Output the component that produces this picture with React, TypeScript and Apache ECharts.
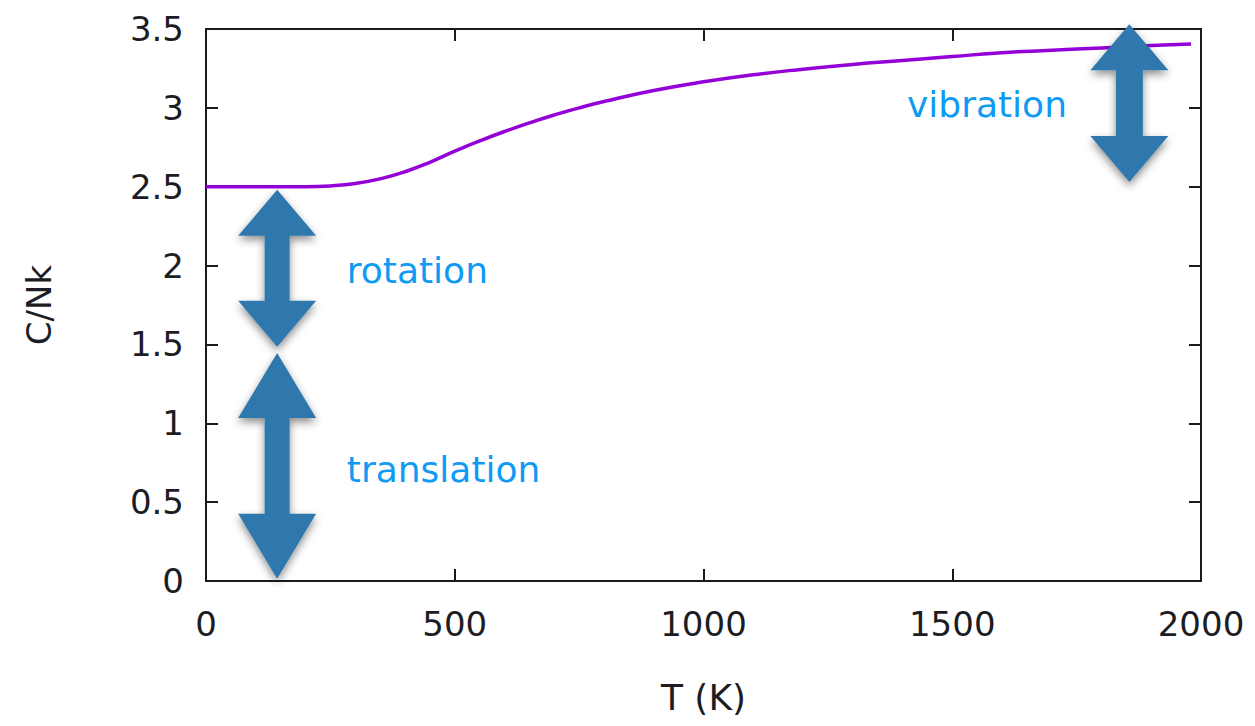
import React, { useEffect, useRef } from "react";
import * as echarts from "echarts";

// Heat capacity per molecule of a diatomic gas versus temperature
const temperatureK = [
  0, 50, 100, 150, 200, 250, 300, 350, 400, 450, 500, 550, 600, 650, 700, 750,
  800, 900, 1000, 1100, 1200, 1300, 1400, 1500, 1600, 1700, 1800, 1900, 1980,
];
const heatCapacity = [
  2.5, 2.5, 2.5, 2.5, 2.5, 2.505, 2.52, 2.55, 2.595, 2.655, 2.725, 2.79, 2.85,
  2.905, 2.955, 3.0, 3.04, 3.11, 3.165, 3.21, 3.245, 3.275, 3.3, 3.325, 3.35,
  3.365, 3.38, 3.395, 3.405,
];

const xTicks = [0, 500, 1000, 1500, 2000];
const yTicks = [0, 0.5, 1, 1.5, 2, 2.5, 3, 3.5];

// Double-headed arrows marking each degree-of-freedom contribution: [T, top C/Nk, bottom C/Nk]
const arrowSpans = [
  [143, 2.48, 1.485],
  [143, 1.445, 0.015],
  [1856, 3.53, 2.53],
];
const arrowHeadHeights = [46, 65, 46];
const arrowShaftHalf = [12.5, 12.5, 13.5];

// Text annotations: [T, C/Nk, label]
const annotations: [number, number, string][] = [
  [283, 1.969, "rotation"],
  [283, 0.707, "translation"],
  [1409, 3.021, "vibration"],
];

const AXIS_FONT = "'DejaVu Sans', 'Liberation Sans', Arial, sans-serif";
const NOTE_FONT = "'DejaVu Sans', 'Liberation Sans', Arial, sans-serif";

export default function App() {
  const ref = useRef<HTMLDivElement>(null);

  useEffect(() => {
    if (!ref.current) return;
    const chart = echarts.init(ref.current, null, { renderer: "svg" });

    const axisLine = {
      show: true,
      onZero: false,
      lineStyle: { color: "#1a1a1a", width: 2 },
    };
    const axisTick = {
      show: true,
      inside: true,
      length: 12,
      lineStyle: { color: "#1a1a1a", width: 2 },
    };
    const labelStyle = {
      fontFamily: AXIS_FONT,
      fontSize: 34,
      color: "#1c1c24",
      formatter: (v: number) => String(v),
    };

    chart.setOption({
      animation: false,
      backgroundColor: "#ffffff",
      grid: { left: 206, right: 54, top: 29, bottom: 145 },
      xAxis: [
        {
          type: "value",
          min: xTicks[0],
          max: xTicks[xTicks.length - 1],
          interval: xTicks[1] - xTicks[0],
          position: "bottom",
          axisLine,
          axisTick,
          splitLine: { show: false },
          axisLabel: { ...labelStyle, margin: 26 },
          name: "T (K)",
          nameLocation: "middle",
          nameGap: 98,
          nameTextStyle: { fontFamily: AXIS_FONT, fontSize: 36, color: "#1c1c24" },
        },
        {
          type: "value",
          min: xTicks[0],
          max: xTicks[xTicks.length - 1],
          interval: xTicks[1] - xTicks[0],
          position: "top",
          axisLine,
          axisTick,
          splitLine: { show: false },
          axisLabel: { show: false },
        },
      ],
      yAxis: [
        {
          type: "value",
          min: yTicks[0],
          max: yTicks[yTicks.length - 1],
          interval: yTicks[1] - yTicks[0],
          position: "left",
          axisLine,
          axisTick,
          splitLine: { show: false },
          axisLabel: { ...labelStyle, margin: 22 },
          name: "C/Nk",
          nameLocation: "middle",
          nameRotate: 90,
          nameGap: 150,
          nameTextStyle: { fontFamily: AXIS_FONT, fontSize: 34, color: "#1c1c24" },
        },
        {
          type: "value",
          min: yTicks[0],
          max: yTicks[yTicks.length - 1],
          interval: yTicks[1] - yTicks[0],
          position: "right",
          axisLine,
          axisTick,
          splitLine: { show: false },
          axisLabel: { show: false },
        },
      ],
      series: [
        {
          type: "line",
          data: temperatureK.map((t, i) => [t, heatCapacity[i]]),
          smooth: true,
          showSymbol: false,
          lineStyle: { color: "#9400d8", width: 3.5 },
          z: 2,
        },
        {
          type: "custom",
          clip: false,
          z: 5,
          data: arrowSpans,
          renderItem: (params: any, api: any) => {
            const i = params.dataIndex;
            const top = api.coord([api.value(0), api.value(1)]);
            const bot = api.coord([api.value(0), api.value(2)]);
            const cx = top[0];
            const head = arrowHeadHeights[i];
            const hw = 39;
            const sw = arrowShaftHalf[i];
            const y0 = top[1];
            const y1 = bot[1];
            const points = [
              [cx, y0],
              [cx + hw, y0 + head],
              [cx + sw, y0 + head],
              [cx + sw, y1 - head],
              [cx + hw, y1 - head],
              [cx, y1],
              [cx - hw, y1 - head],
              [cx - sw, y1 - head],
              [cx - sw, y0 + head],
              [cx - hw, y0 + head],
            ];
            return {
              type: "polygon",
              shape: { points },
              style: {
                fill: "#2e78ad",
                shadowBlur: 8,
                shadowOffsetY: 4,
                shadowColor: "rgba(0,0,0,0.45)",
              },
            };
          },
        },
        {
          type: "custom",
          clip: false,
          z: 6,
          data: annotations,
          renderItem: (params: any, api: any) => {
            const p = api.coord([api.value(0), api.value(1)]);
            return {
              type: "text",
              x: p[0],
              y: p[1],
              style: {
                text: annotations[params.dataIndex][2],
                fill: "#0f9af4",
                fontFamily: NOTE_FONT,
                fontSize: 36,
                align: "left",
                verticalAlign: "middle",
              },
            };
          },
        },
      ],
    });

    return () => chart.dispose();
  }, []);

  return (
    <div
      ref={ref}
      style={{ position: "absolute", left: 0, top: 0, width: 1255, height: 726 }}
    />
  );
}
